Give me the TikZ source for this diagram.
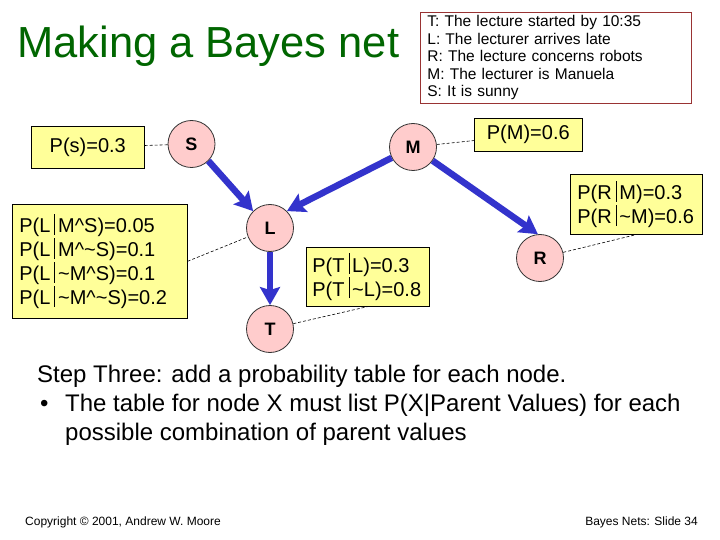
\documentclass[tikz,border=0pt]{standalone}
\usepackage{fontspec}
\setmainfont{Liberation Sans}
\usetikzlibrary{arrows.meta}
\definecolor{titlegreen}{RGB}{0,102,0}
\definecolor{boxyellow}{RGB}{255,255,153}
\definecolor{nodepink}{RGB}{255,204,204}
\definecolor{arrowblue}{RGB}{51,51,204}
\definecolor{defred}{RGB}{153,51,51}
\newcommand{\condbar}{\hspace{4pt}\rule[-2pt]{0.7pt}{21pt}\hspace{3pt}}
\begin{document}
\begin{tikzpicture}[x=1pt,y=-1pt,
 bnode/.style={circle,draw=black!80,line width=0.8pt,fill=nodepink,minimum size=47pt,inner sep=0pt,font=\fontsize{18}{20}\selectfont\bfseries},
 ptab/.style={draw=black,line width=0.6pt,fill=boxyellow,inner sep=0pt,font=\fontsize{20}{24}\selectfont},
 tabl/.style={ptab,align=left,inner xsep=7pt,anchor=north west},
 link/.style={-{Stealth[length=18pt,width=20pt,inset=3pt]}, line width=6.5pt, draw=arrowblue},
 dashlink/.style={draw=black,line width=0.6pt,dash pattern=on 3pt off 2pt},
 plain/.style={inner sep=0pt,anchor=base west},
]
\useasboundingbox[fill=white] (0,0) rectangle (720,540);

\node[plain,text=titlegreen,font=\fontsize{43.5}{50}\selectfont] (title) at (17,58) {Making a Bayes net};

\node[draw=defred,line width=0.8pt,fill=white,anchor=north west,align=left,text width=257pt,minimum height=91pt,inner xsep=7pt,inner ysep=0pt,font=\fontsize{15.5}{17.5}\selectfont] (Def) at (420,12)
 {T: The lecture started by 10:35\\ L: The lecturer arrives late\\ R: The lecture concerns robots\\ M: The lecturer is Manuela\\ S: It is sunny};

\node[bnode] (S) at (191.5,144) {S};
\node[bnode] (L) at (270,228) {L};
\node[bnode] (T) at (270,329) {T};
\node[bnode] (M) at (413,147) {M};
\node[bnode] (R) at (540,258) {R};

\node[ptab,minimum width=113pt,minimum height=42pt,anchor=north west] (Ps) at (31,126) {P(s)=0.3};
\node[ptab,minimum width=108pt,minimum height=33pt,anchor=north west] (PM) at (474,118) {P(M)=0.6};
\node[tabl,text width=161pt,minimum height=114pt] (Lt) at (12,204)
 {P(L\condbar M\textasciicircum S)=0.05\\
  P(L\condbar M\textasciicircum\textasciitilde S)=0.1\\
  P(L\condbar\textasciitilde M\textasciicircum S)=0.1\\
  P(L\condbar\textasciitilde M\textasciicircum\textasciitilde S)=0.2};
\node[tabl,text width=118pt,minimum height=60pt] (Rt) at (570,174)
 {P(R\condbar M)=0.3\\ P(R\condbar\textasciitilde M)=0.6};
\node[tabl,inner xsep=6pt,text width=111pt,minimum height=59pt] (Tt) at (306,247)
 {P(T\condbar L)=0.3\\ P(T\condbar\textasciitilde L)=0.8};

\draw[link] (S.-45) -- (L.135);
\draw[link] (M) -- (L.45);
\draw[link] (L) -- (T);
\draw[link] (M) -- (R.95);

\draw[dashlink] (Ps) -- (S);
\draw[dashlink] (Lt.east) -- (L);
\draw[dashlink] (T) -- (Tt.south);
\draw[dashlink] (M) -- (PM);
\draw[dashlink] (R) -- (Rt.south);

\node[plain,font=\fontsize{24}{29}\selectfont] (step) at (37,382) {Step Three: add a probability table for each node.};
\node[plain,font=\fontsize{24}{29}\selectfont] (bul) at (40,411) {\textbullet};
\node[plain,font=\fontsize{24}{29}\selectfont] (line2) at (65,411) {The table for node X must list P(X|Parent Values) for each};
\node[plain,font=\fontsize{24}{29}\selectfont] (line3) at (65,440) {possible combination of parent values};

\node[plain,font=\fontsize{12}{14}\selectfont] (copy) at (25,525) {Copyright © 2001, Andrew W. Moore};
\node[plain,anchor=base east,font=\fontsize{12}{14}\selectfont] (slide) at (698,525) {Bayes Nets: Slide 34};
\end{tikzpicture}
\end{document}
